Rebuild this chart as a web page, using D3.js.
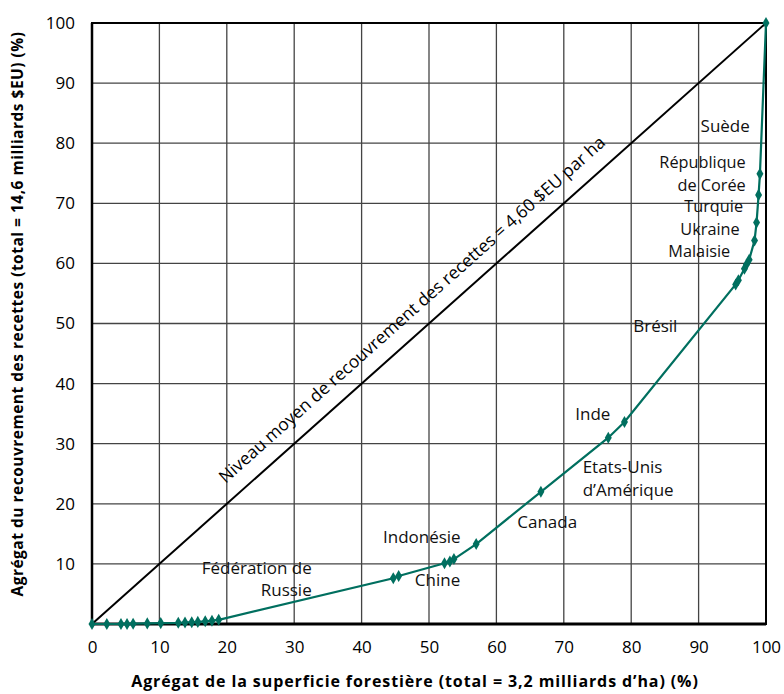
<!DOCTYPE html>
<html><head><meta charset="utf-8">
<script src="https://cdn.jsdelivr.net/npm/d3@7"></script>
<style>body{margin:0;background:#fff}svg{display:block}text{font-family:"Open Sans",sans-serif}</style>
</head><body><svg id="c" width="784" height="694"></svg>
<script>
// Cumulative forest area (%) and cumulative revenue recovery (%)
const areaPct = [0, 2.2, 4.3, 5.2, 6.1, 8.2, 10.2, 12.8, 13.8, 14.8, 15.7, 16.8, 17.8, 18.8,
  44.7, 45.5, 52.3, 53.1, 53.7, 57.0, 66.6, 76.6, 79.0,
  95.5, 95.9, 96.8, 97.1, 97.5, 98.3, 98.6, 98.9, 99.1, 100];
const revenuePct = [0, 0, 0, 0, 0.05, 0.1, 0.15, 0.2, 0.25, 0.3, 0.35, 0.45, 0.55, 0.7,
  7.6, 8.0, 10.1, 10.4, 10.8, 13.3, 22.0, 31.0, 33.6,
  56.5, 57.2, 59.1, 59.8, 60.6, 63.8, 66.8, 71.4, 74.9, 100];
const xTicks = [0, 10, 20, 30, 40, 50, 60, 70, 80, 90, 100];
const yTicks = [10, 20, 30, 40, 50, 60, 70, 80, 90, 100];
const labelText = ["Suède", "République", "de Corée", "Turquie", "Ukraine", "Malaisie", "Brésil", "Inde",
  "Etats-Unis", "d’Amérique", "Canada", "Indonésie", "Chine", "Fédération de", "Russie"];
const labelX = [97.6, 97.0, 97.0, 96.6, 96.1, 94.7, 80.3, 71.7, 72.8, 72.8, 63.1, 54.7, 47.9, 32.6, 32.6];
const labelY = [81.9, 75.9, 72.1, 68.5, 64.8, 61.0, 48.6, 33.9, 25.1, 21.3, 16.0, 13.5, 6.3, 8.3, 4.7];
const labelAnchor = ["end", "end", "end", "end", "end", "end", "start", "start", "start", "start", "start", "end", "start", "end", "end"];
const diagText = "Niveau moyen de recouvrement des recettes = 4,60 $EU par ha";
const xTitle = "Agrégat de la superficie forestière (total = 3,2 milliards d’ha) (%)";
const yTitle = "Agrégat du recouvrement des recettes (total = 14,6 milliards $EU) (%)";

const svg = d3.select("#c");
const m = {l: 92, r: 18, t: 23, b: 70};
const W = 784 - m.l - m.r, H = 694 - m.t - m.b;
const x = d3.scaleLinear().domain([0, 100]).range([m.l, m.l + W]);
const y = d3.scaleLinear().domain([0, 100]).range([m.t + H, m.t]);
const teal = "#006f5f";

// grid
svg.append("g").selectAll("line").data(xTicks.slice(1, -1)).join("line")
  .attr("x1", d => x(d)).attr("x2", d => x(d)).attr("y1", y(0)).attr("y2", y(100))
  .attr("stroke", "#444").attr("stroke-width", 1.3);
svg.append("g").selectAll("line").data(yTicks.slice(0, -1)).join("line")
  .attr("x1", x(0)).attr("x2", x(100)).attr("y1", d => y(d)).attr("y2", d => y(d))
  .attr("stroke", "#444").attr("stroke-width", 1.3);

// frame
svg.append("rect").attr("x", x(0)).attr("y", y(100)).attr("width", W).attr("height", H)
  .attr("fill", "none").attr("stroke", "#000").attr("stroke-width", 2);
svg.append("line").attr("x1", x(0)).attr("x2", x(100)).attr("y1", y(0)).attr("y2", y(0))
  .attr("stroke", "#000").attr("stroke-width", 3);
svg.append("line").attr("x1", x(0)).attr("x2", x(0)).attr("y1", y(0)).attr("y2", y(100))
  .attr("stroke", "#000").attr("stroke-width", 2.5);

// axes labels
const xAxis = d3.axisBottom(x).tickValues(xTicks).tickSize(0).tickPadding(0);
const gx = svg.append("g").attr("transform", `translate(0,${y(0)})`).call(xAxis);
gx.select(".domain").remove();
gx.selectAll("text").attr("dy", null).attr("y", 29).attr("font-size", 17).attr("fill", "#000")
  .attr("font-family", "Open Sans");
const yAxis = d3.axisLeft(y).tickValues(yTicks).tickSize(0).tickPadding(17);
const gy = svg.append("g").attr("transform", `translate(${x(0)},0)`).call(yAxis);
gy.select(".domain").remove();
gy.selectAll("text").attr("font-size", 17).attr("fill", "#000").attr("font-family", "Open Sans");

// diagonal
svg.append("line").attr("x1", x(0)).attr("y1", y(0)).attr("x2", x(100)).attr("y2", y(100))
  .attr("stroke", "#000").attr("stroke-width", 2);
const ang = Math.atan2(y(100) - y(0), x(100) - x(0)) * 180 / Math.PI;
svg.append("text").attr("transform", `translate(${x(19.8)},${y(23.3)}) rotate(${ang})`)
  .attr("font-size", 17.4).attr("text-anchor", "start").text(diagText);

// curve
const pts = areaPct.map((d, i) => [d, revenuePct[i]]);
svg.append("path").datum(pts)
  .attr("d", d3.line().x(d => x(d[0])).y(d => y(d[1])))
  .attr("fill", "none").attr("stroke", teal).attr("stroke-width", 2.2);
svg.append("g").selectAll("path").data(pts).join("path")
  .attr("transform", d => `translate(${x(d[0])},${y(d[1])})`)
  .attr("d", d3.symbol(d3.symbolDiamond, 42)).attr("fill", teal);

// country labels (the tightly stacked group is set a touch smaller)
const stacked = new Set(["République", "de Corée", "Turquie", "Ukraine", "Malaisie"]);
svg.append("g").selectAll("text").data(labelText).join("text")
  .attr("x", (d, i) => x(labelX[i])).attr("y", (d, i) => y(labelY[i]))
  .attr("text-anchor", (d, i) => labelAnchor[i])
  .attr("font-size", d => stacked.has(d) ? 16.3 : 17).attr("fill", "#111")
  .text(d => d);

// titles
svg.append("text").attr("x", 415).attr("y", 687).attr("text-anchor", "middle")
  .attr("font-size", 16).attr("letter-spacing", 0.9).attr("font-weight", "bold").text(xTitle);
svg.append("text").attr("transform", "translate(23,314) rotate(-90)").attr("text-anchor", "middle")
  .attr("font-size", 15.5).attr("letter-spacing", 0.5).attr("font-weight", "bold").text(yTitle);
</script></body></html>
